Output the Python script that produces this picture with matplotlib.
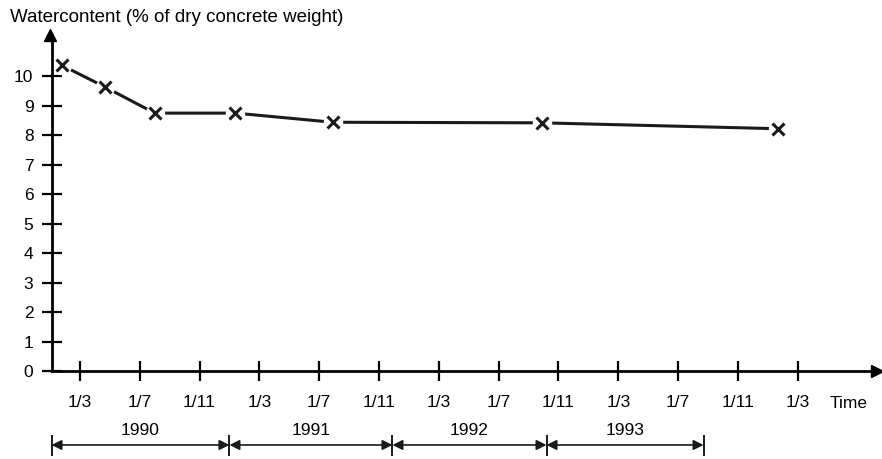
import matplotlib

matplotlib.use("Agg")

import matplotlib.pyplot as plt

plt.rcParams["font.family"] = ["Liberation Sans", "DejaVu Sans"]

# months counted from 1/1 1990
sample_month = [0.8, 3.7, 7.0, 12.4, 18.9, 32.9, 48.7]
water_content = [10.37, 9.63, 8.75, 8.75, 8.44, 8.42, 8.22]

tick_month = [2, 6, 10, 14, 18, 22, 26, 30, 34, 38, 42, 46, 50]
tick_label = ["1/3", "1/7", "1/11"] * 4 + ["1/3"]

year_label = ["1990", "1991", "1992", "1993"]
year_bounds = [0.1, 12.0, 22.9, 33.2, 43.7]


def main():

    fig = plt.figure(figsize=(8.82, 4.59), dpi=100)

    ax = fig.add_axes([51.5 / 882, 88 / 459, 825.5 / 882, 336 / 459])

    ax.set_xlim(0.1, 55.3)
    ax.set_ylim(0, 11.4)

    for side in ["top", "right"]:
        ax.spines[side].set_visible(False)

    for side in ["left", "bottom"]:
        ax.spines[side].set_linewidth(2)
        ax.spines[side].set_zorder(6)

    # axis arrow heads
    ax.plot(
        1, 0, ">k",
        markersize=9,
        transform=ax.get_yaxis_transform(),
        clip_on=False,
    )
    ax.plot(
        0, 1, "^k",
        markersize=9,
        transform=ax.get_xaxis_transform(),
        clip_on=False,
    )

    ax.set_yticks(range(0, 11))
    ax.set_xticks(tick_month)
    ax.set_xticklabels(tick_label)

    ax.tick_params(
        axis="both",
        direction="inout",
        length=14,
        width=1.6,
        labelsize=12.5,
    )
    ax.tick_params(axis="x", pad=10)
    ax.tick_params(axis="y", pad=6)

    ax.plot(
        sample_month,
        water_content,
        color="#1a1a1a",
        linewidth=2.2,
        zorder=3,
    )
    ax.plot(
        sample_month,
        water_content,
        linestyle="none",
        marker="o",
        markersize=14,
        markerfacecolor="white",
        markeredgewidth=0,
        zorder=4,
    )
    ax.plot(
        sample_month,
        water_content,
        linestyle="none",
        marker="x",
        markersize=9,
        markeredgewidth=2.2,
        color="#1a1a1a",
        zorder=5,
    )

    ax.text(53.4, -1.1, "Time", fontsize=12.5, ha="center", va="center")

    # year bars below the time axis
    bar_y = -2.51
    for i, label in enumerate(year_label):
        x0 = year_bounds[i]
        x1 = year_bounds[i + 1]
        ax.annotate(
            "",
            xy=(x1, bar_y),
            xytext=(x0, bar_y),
            arrowprops=dict(
                arrowstyle="<|-|>",
                color="#1a1a1a",
                lw=1.2,
                shrinkA=0,
                shrinkB=0,
                mutation_scale=15,
            ),
            annotation_clip=False,
        )
        ax.text(
            (x0 + x1) / 2,
            bar_y + 0.48,
            label,
            fontsize=12.5,
            ha="center",
            va="center",
        )

    ax.vlines(
        year_bounds,
        -2.9,
        -2.17,
        color="#1a1a1a",
        linewidth=1.4,
        clip_on=False,
    )

    fig.text(
        10 / 882,
        1 - 17 / 459,
        "Watercontent (% of dry concrete weight)",
        fontsize=13.5,
        ha="left",
        va="center",
    )

    fig.savefig("out.png", dpi=100)
    plt.close(fig)


if __name__ == "__main__":
    main()
